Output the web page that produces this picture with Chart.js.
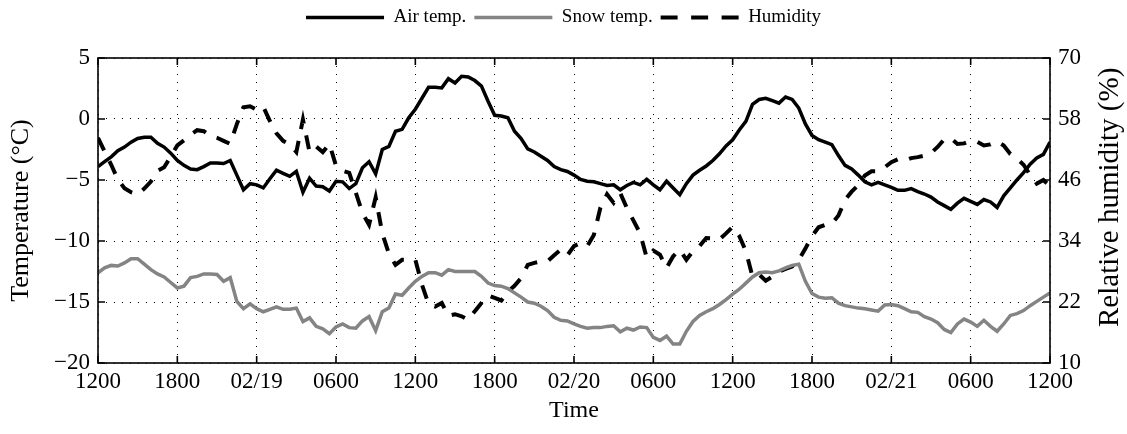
<!DOCTYPE html>
<html>
<head>
<meta charset="utf-8">
<script src="https://cdn.jsdelivr.net/npm/chart.js@4.4.0/dist/chart.umd.min.js"></script>
<style>
  html, body { margin: 0; padding: 0; background: #fff; }
  canvas { display: block; }
</style>
</head>
<body>
<canvas id="grafico" width="1127" height="434"></canvas>
<script>
// ====== DADOS (leituras a cada 30 min, de 02/18 12h até 02/21 12h) ======
const tempAr = [
  -3.9, -3.5, -3.1, -2.6, -2.3, -1.9, -1.6, -1.5, -1.5, -2.0, -2.3, -2.8,
  -3.4, -3.8, -4.1, -4.15, -3.9, -3.6, -3.6, -3.65, -3.4, -4.6, -5.8, -5.3,
  -5.4, -5.65, -4.9, -4.2, -4.45, -4.7, -4.3, -6.0, -4.85, -5.5, -5.55, -5.9,
  -5.1, -5.15, -5.7, -5.3, -4.0, -3.5, -4.5, -2.5, -2.25, -1.0, -0.85, 0.1,
  0.8, 1.7, 2.6, 2.6, 2.55, 3.3, 2.95, 3.5, 3.45, 3.15, 2.7, 1.45,
  0.3, 0.25, 0.1, -1.0, -1.6, -2.45, -2.7, -3.05, -3.4, -3.9, -4.15, -4.3,
  -4.6, -4.95, -5.1, -5.15, -5.3, -5.45, -5.4, -5.8, -5.45, -5.2, -5.4, -4.95,
  -5.4, -5.8, -5.1, -5.65, -6.2, -5.3, -4.6, -4.2, -3.85, -3.4, -2.85, -2.2,
  -1.7, -0.9, -0.2, 1.2, 1.6, 1.7, 1.5, 1.3, 1.8, 1.6, 0.9, -0.4,
  -1.35, -1.7, -1.9, -2.1, -3.0, -3.8, -4.1, -4.6, -5.15, -5.4, -5.2, -5.4,
  -5.6, -5.85, -5.85, -5.7, -5.95, -6.15, -6.4, -6.8, -7.1, -7.4, -6.9, -6.5,
  -6.75, -7.0, -6.6, -6.8, -7.25, -6.3, -5.65, -5.0, -4.4, -3.7, -3.2, -2.9,
  -1.9
];

const tempNeve = [
  -12.6, -12.2, -12.0, -12.05, -11.8, -11.45, -11.45, -11.9, -12.35, -12.7, -12.95, -13.4,
  -13.85, -13.7, -13.0, -12.9, -12.7, -12.7, -12.75, -13.3, -13.0, -14.95, -15.55, -15.15,
  -15.55, -15.8, -15.6, -15.4, -15.6, -15.6, -15.5, -16.6, -16.3, -17.0, -17.2, -17.6,
  -17.05, -16.8, -17.1, -17.15, -16.55, -16.2, -17.35, -15.8, -15.5, -14.35, -14.45, -13.85,
  -13.3, -12.9, -12.6, -12.6, -12.8, -12.35, -12.5, -12.5, -12.5, -12.5, -12.9, -13.45,
  -13.65, -13.7, -13.9, -14.25, -14.6, -15.0, -15.1, -15.35, -15.7, -16.25, -16.5, -16.55,
  -16.8, -17.0, -17.15, -17.1, -17.1, -17.0, -16.95, -17.45, -17.15, -17.3, -17.05, -17.1,
  -17.9, -18.15, -17.8, -18.45, -18.45, -17.4, -16.6, -16.1, -15.8, -15.55, -15.2, -14.8,
  -14.35, -13.95, -13.45, -12.95, -12.6, -12.55, -12.6, -12.45, -12.2, -12.0, -11.9, -13.3,
  -14.3, -14.6, -14.7, -14.65, -15.1, -15.3, -15.4, -15.5, -15.55, -15.65, -15.75, -15.25,
  -15.2, -15.3, -15.55, -15.8, -15.85, -16.2, -16.4, -16.7, -17.25, -17.5, -16.8, -16.4,
  -16.65, -17.0, -16.5, -17.0, -17.4, -16.8, -16.1, -15.95, -15.7, -15.3, -14.95, -14.6,
  -14.25
];

const umidade = [
  54.3, 51.6, 49.0, 46.1, 44.4, 43.6, 43.2, 44.3, 45.7, 47.8, 48.5, 50.6,
  52.8, 53.8, 54.9, 55.8, 55.6, 54.7, 54.3, 53.7, 53.1, 57.0, 60.3, 60.5,
  59.8, 60.4, 57.6, 55.2, 53.7, 53.0, 51.5, 57.9, 51.5, 52.6, 51.5, 53.1,
  48.8, 47.8, 47.4, 43.5, 39.5, 37.2, 42.6, 35.5, 31.5, 29.3, 30.3, 30.3,
  30.3, 25.4, 21.6, 21.1, 21.8, 19.3, 19.6, 19.2, 18.5, 20.2, 21.8, 23.3,
  22.8, 22.3, 24.0, 25.2, 26.7, 29.3, 29.7, 30.0, 30.0, 31.2, 32.3, 31.2,
  33.0, 33.6, 33.0, 35.2, 40.6, 43.2, 41.5, 43.4, 40.5, 38.0, 35.5, 30.7,
  32.1, 31.3, 28.7, 31.0, 32.3, 30.3, 32.0, 33.0, 34.6, 34.5, 34.3, 35.5,
  36.8, 35.0, 32.0, 27.0, 27.4, 26.2, 27.0, 28.0, 28.5, 29.0, 30.3, 32.5,
  35.0, 36.7, 37.2, 37.4, 39.0, 42.1, 43.7, 45.0, 46.9, 47.7, 47.7, 48.5,
  49.5, 50.1, 49.8, 50.3, 50.5, 50.8, 51.3, 52.5, 54.0, 54.2, 53.1, 53.2,
  53.7, 53.5, 52.8, 53.0, 53.6, 52.8, 51.1, 50.2, 49.0, 47.0, 45.3, 46.0,
  44.8
];

// rótulos do eixo de tempo, um a cada 6 horas
const rotulosTempo = ["1200", "1800", "02/19", "0600", "1200", "1800", "02/20",
  "0600", "1200", "1800", "02/21", "0600", "1200"];

const FONTE = "'Liberation Serif', 'Times New Roman', serif";

// horas desde o início (passo de meia hora)
const horas = tempAr.map((_, i) => i * 0.5);
const pontos = (serie) => serie.map((v, i) => ({ x: horas[i], y: v }));
const menos = (v) => String(v).replace("-", "\u2212");

// tracejado da umidade: no gráfico e na legenda
const tracoUmidade = [14, 12];
const tracoLegenda = [17, 13.5];

// ====== MOLDURA: caixa, ticks para dentro e título da direita ======
const moldura = {
  id: "moldura",
  beforeInit(chart) {
    // espaço extra abaixo da legenda
    const fitOriginal = chart.legend.fit;
    chart.legend.fit = function () {
      fitOriginal.call(this);
      this.height += 21;
    };
  },
  afterDraw(chart) {
    const { ctx, chartArea: a, scales } = chart;
    const tam = 7;
    ctx.save();
    ctx.strokeStyle = "#000";
    ctx.lineWidth = 1.6;
    ctx.setLineDash([]);
    ctx.strokeRect(a.left, a.top, a.right - a.left, a.bottom - a.top);

    ctx.beginPath();
    scales.x.ticks.forEach((t) => {
      const px = scales.x.getPixelForValue(t.value);
      ctx.moveTo(px, a.bottom); ctx.lineTo(px, a.bottom - tam);
      ctx.moveTo(px, a.top); ctx.lineTo(px, a.top + tam);
    });
    scales.y.ticks.forEach((t) => {
      const py = scales.y.getPixelForValue(t.value);
      ctx.moveTo(a.left, py); ctx.lineTo(a.left + tam, py);
    });
    scales.y1.ticks.forEach((t) => {
      const py = scales.y1.getPixelForValue(t.value);
      ctx.moveTo(a.right, py); ctx.lineTo(a.right - tam, py);
    });
    ctx.stroke();

    // título do eixo direito, lido de baixo para cima
    ctx.translate(scales.y1.right - 17, a.bottom - 36);
    ctx.rotate(-Math.PI / 2);
    ctx.fillStyle = "#000";
    ctx.font = `29px ${FONTE}`;
    ctx.textAlign = "left";
    ctx.textBaseline = "middle";
    ctx.fillText("Relative humidity (%)", 0, 0);
    ctx.restore();
  }
};

const fonteTick = { family: FONTE, size: 23 };
const gradePontilhada = { color: "#000", lineWidth: 1, drawTicks: false };

new Chart(document.getElementById("grafico"), {
  type: "line",
  data: {
    datasets: [
      {
        label: "Air temp.",
        data: pontos(tempAr),
        yAxisID: "y",
        borderColor: "#000",
        backgroundColor: "#000",
        borderWidth: 3.5,
        pointRadius: 0,
        pointStyle: "line"
      },
      {
        label: "Snow temp.",
        data: pontos(tempNeve),
        yAxisID: "y",
        borderColor: "#848484",
        backgroundColor: "#848484",
        borderWidth: 3.5,
        pointRadius: 0,
        pointStyle: "line"
      },
      {
        label: "Humidity",
        data: pontos(umidade),
        yAxisID: "y1",
        borderColor: "#000",
        backgroundColor: "#000",
        borderWidth: 4,
        borderDash: tracoUmidade,
        pointRadius: 0,
        pointStyle: "line"
      }
    ]
  },
  options: {
    responsive: false,
    animation: false,
    devicePixelRatio: 1,
    layout: { padding: 0 },
    plugins: {
      legend: {
        position: "top",
        labels: {
          usePointStyle: true,
          pointStyleWidth: 78,
          padding: 8,
          color: "#000",
          font: { family: FONTE, size: 19 },
          generateLabels(chart) {
            const itens = Chart.defaults.plugins.legend.labels.generateLabels(chart);
            itens.forEach((it) => {
              const ds = chart.data.datasets[it.datasetIndex];
              it.strokeStyle = ds.borderColor;
              it.lineWidth = ds.borderWidth;
              it.lineDash = ds.borderDash ? tracoLegenda : [];
            });
            return itens;
          }
        }
      },
      tooltip: { enabled: false }
    },
    scales: {
      x: {
        type: "linear",
        min: 0,
        max: 72,
        afterFit: (s) => { s.height = 71; },
        ticks: {
          stepSize: 6,
          padding: 5,
          autoSkip: false,
          maxRotation: 0,
          color: "#000",
          font: fonteTick,
          callback: (v) => rotulosTempo[v / 6]
        },
        grid: gradePontilhada,
        border: { display: false, dash: [1, 7] },
        title: {
          display: true,
          text: "Time",
          color: "#000",
          font: { family: FONTE, size: 24 },
          padding: { top: 0, bottom: 9 }
        }
      },
      y: {
        position: "left",
        min: -20,
        max: 5,
        afterFit: (s) => { s.width = 98; },
        ticks: {
          stepSize: 5,
          padding: 8,
          color: "#000",
          font: fonteTick,
          callback: menos
        },
        grid: gradePontilhada,
        border: { display: false, dash: [1, 7] },
        title: {
          display: true,
          text: "Temperature (\u00B0C)",
          color: "#000",
          font: { family: FONTE, size: 26 },
          padding: { top: 6, bottom: 0 }
        }
      },
      y1: {
        position: "right",
        min: 10,
        max: 70,
        afterFit: (s) => { s.width = 77; },
        ticks: {
          stepSize: 12,
          padding: 8,
          color: "#000",
          font: fonteTick
        },
        grid: { display: false, drawTicks: false },
        border: { display: false }
      }
    }
  },
  plugins: [moldura]
});
</script>
</body>
</html>
